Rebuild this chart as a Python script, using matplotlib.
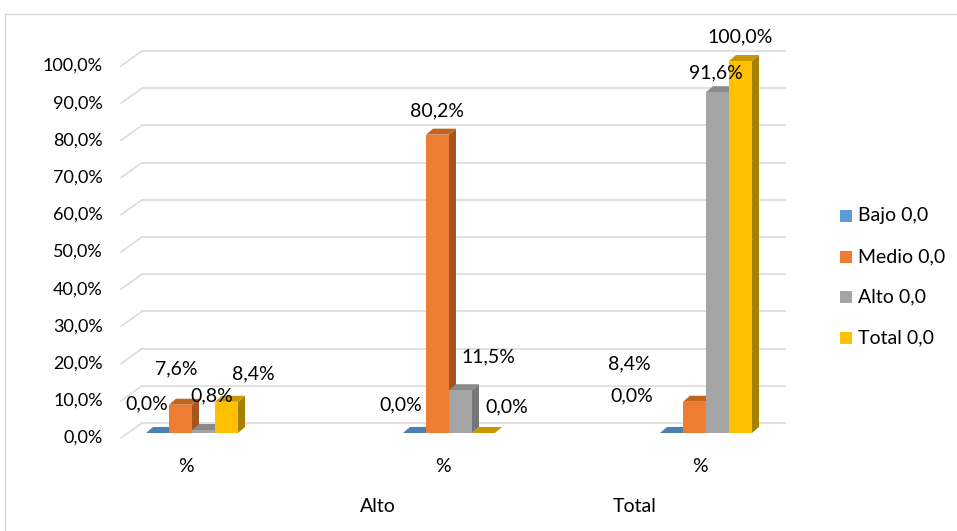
import matplotlib
matplotlib.use("Agg")
import matplotlib.pyplot as plt
from matplotlib.patches import Polygon, Rectangle
from matplotlib.transforms import ScaledTranslation

plt.rcParams['font.family'] = ['Lato', 'DejaVu Sans']

# data
groups = ["%", "%", "%"]
group_sub = ["", "Alto", "Total"]
series = ["Bajo 0,0", "Medio 0,0", "Alto 0,0", "Total 0,0"]
bajo = [0.0, 0.0, 0.0]
medio = [7.6, 80.2, 8.4]
alto = [0.8, 11.5, 91.6]
total = [8.4, 0.0, 100.0]
values = [bajo, medio, alto, total]
yticks = list(range(0, 101, 10))

# face colours per series: front, top, side
front_c = ["#5B9BD5", "#ED7D31", "#A5A5A5", "#FFC000"]
top_c = ["#4A7FB0", "#C4631F", "#8A8A8A", "#C99700"]
side_c = ["#41709C", "#A85420", "#767676", "#A88000"]

# label offsets in pixels (dx, dy) from the top-centre of each bar
label_off = [
    [(-11, 29), (-14, 28), (-40, 37)],
    [(-4, 36), (0, 24), (-65, 38)],
    [(8, 34), (28, 33), (-2, 19)],
    [(27, 28), (23, 26), (0, 24)],
]

W, H = 957, 531
fig = plt.figure(figsize=(W / 100, H / 100), dpi=100)
ax = fig.add_axes([128 / W, 98 / H, 643 / W, 372 / H])
xmin, xmax = -0.249, 2.253
ax.set_xlim(xmin, xmax)
ax.set_ylim(0, 100)
ax.axis("off")

px_x = 643 / (xmax - xmin)
px_y = 372 / 100.0


def shift(dx, dy):
    return ax.transData + ScaledTranslation(dx / 100, dy / 100, fig.dpi_scale_trans)


grid_c = "#D9D9D9"
back = shift(14, 10)
for t in yticks:
    ax.plot([xmin, xmax], [t, t], color=grid_c, lw=1.1, transform=back,
            clip_on=False, zorder=0)
    # slanted piece joining the front edge to the back wall
    x0, y0 = ax.transData.transform((xmin, t))
    ax.plot([x0 - 7, x0 + 14], [y0 - 5, y0 + 10], color=grid_c, lw=1.1,
            transform=None, clip_on=False, zorder=0)
    ax.text(xmin, t, f"{t:.1f}%".replace(".", ","), transform=shift(-25, -5),
            ha="right", va="center", fontsize=13, color="black")

# pseudo-3D columns
bw = 23 / px_x
ddx = 7 / px_x
ddy = 6 / px_y
z = 2
for g in range(len(groups)):
    for i, vals in enumerate(values):
        v = vals[g]
        x0 = g + (i - 2) * bw
        x1 = x0 + bw
        side = Polygon([(x1, 0), (x1 + ddx, ddy), (x1 + ddx, v + ddy), (x1, v)],
                       closed=True, fc=side_c[i], ec="none", zorder=z, clip_on=False)
        top = Polygon([(x0, v), (x1, v), (x1 + ddx, v + ddy), (x0 + ddx, v + ddy)],
                      closed=True, fc=top_c[i], ec="none", zorder=z, clip_on=False)
        ax.add_patch(side)
        ax.add_patch(top)
        ax.bar(x0, v, width=bw, align="edge", color=front_c[i], zorder=z + 0.5,
               clip_on=False)
        z += 1
        dx, dy = label_off[i][g]
        ax.text(x0 + bw / 2, v, f"{v:.1f}%".replace(".", ","), transform=shift(dx, dy),
                ha="center", va="center", fontsize=14, color="black", zorder=50)

# category labels
for g, (lab, sub) in enumerate(zip(groups, group_sub)):
    ax.text(g, 0, lab, transform=shift(-6, -34), ha="center", va="center",
            fontsize=14, color="black")
    if sub:
        ax.text(g, 0, sub, transform=shift(-71, -74), ha="center", va="center",
                fontsize=14, color="black")

# legend
leg_y = [216, 257, 297, 338]
for name, col, yy in zip(series, front_c, leg_y):
    fig.patches.append(Rectangle((840 / W, 1 - (yy + 6) / H), 12 / W, 12 / H,
                                 transform=fig.transFigure, fc=col, ec="none"))
    fig.text(858 / W, 1 - yy / H, name, ha="left", va="center", fontsize=14,
             color="black")

# chart border
fig.patches.append(Rectangle((5 / W, -0.05), 1.1, 1.05 - 14 / H,
                             transform=fig.transFigure, fc="none", ec=grid_c, lw=1))

fig.savefig("out.png", dpi=100)
